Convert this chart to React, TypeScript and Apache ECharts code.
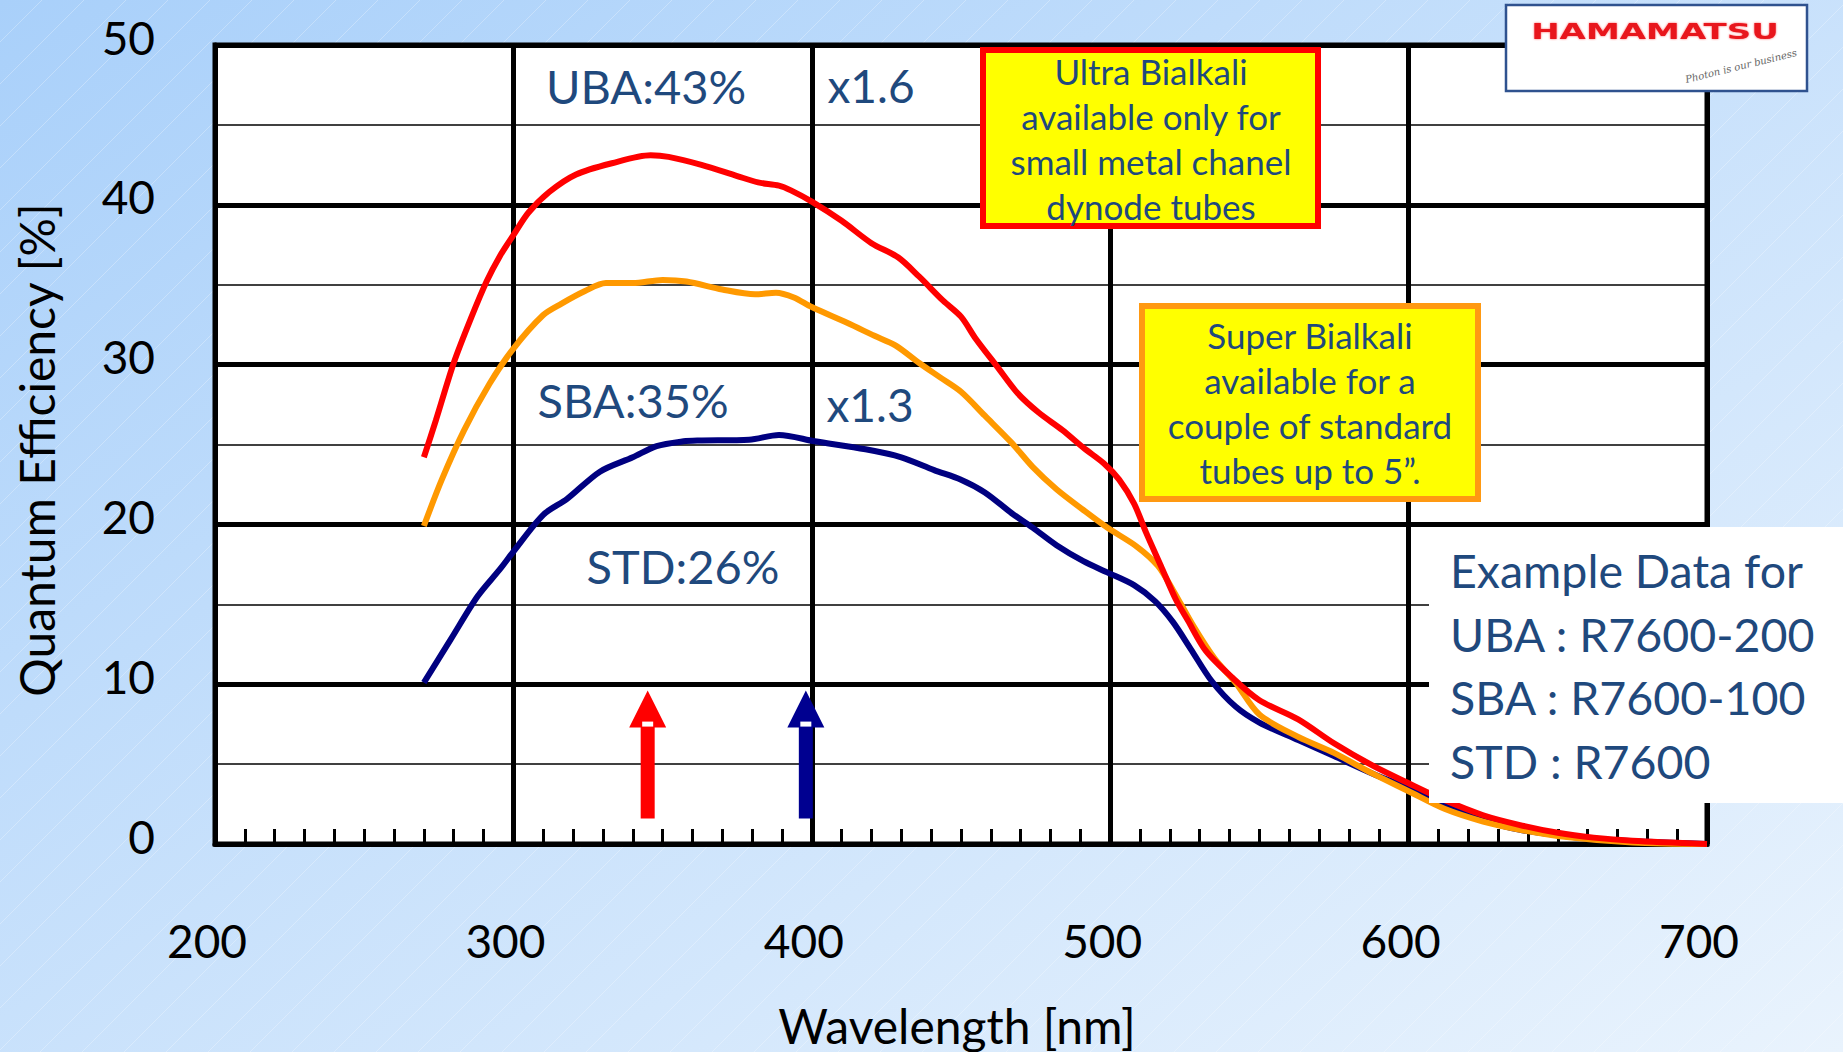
import React, { useEffect, useRef } from "react";
import * as echarts from "echarts";

const W = 1843;
const H = 1052;
const FONT = "Lato";
const NAVY = "#1F497D";

// Quantum efficiency curves [wavelength nm, QE %]
const stdCurve: [number, number][] = [
  [270, 10.1], [279, 12.8], [288, 15.5], [295.5, 17.2], [300, 18.3], [310, 20.6], [318, 21.6],
  [329, 23.3], [340, 24.2], [348, 24.9], [357, 25.2], [362, 25.25], [379, 25.3], [389, 25.6],
  [401, 25.2], [418, 24.7], [430, 24.2], [441, 23.4], [450, 22.8], [458, 22.0], [467, 20.7],
  [474, 19.8], [482, 18.7], [491, 17.7], [499, 17.0], [508, 16.2], [515, 15.2], [521, 13.9],
  [527, 12.2], [534, 10.2], [542, 8.6], [550, 7.6], [563, 6.5], [575, 5.5], [588, 4.4],
  [600, 3.5], [612, 2.4], [625, 1.5], [637, 0.9], [650, 0.55], [662, 0.3], [700, 0],
];
const sbaCurve: [number, number][] = [
  [270, 19.9], [276, 22.8], [283.5, 25.9], [292, 28.8], [300, 31.0], [310, 33.1], [316, 33.8],
  [324, 34.6], [331, 35.1], [340, 35.1], [350, 35.3], [358, 35.2], [370, 34.7], [381, 34.4],
  [388, 34.5], [394, 34.2], [400, 33.6], [412, 32.6], [421, 31.8], [428, 31.2], [436, 30.1],
  [443, 29.2], [450, 28.3], [458, 26.8], [467, 25.1], [474, 23.6], [482, 22.2], [491, 20.9],
  [499, 19.8], [509, 18.6], [516, 17.4], [521, 15.9], [528, 13.6], [535, 11.6], [542, 10.1],
  [550, 8.1], [563, 6.7], [575, 5.7], [588, 4.4], [600, 3.3], [612, 2.2], [625, 1.4],
  [637, 0.9], [650, 0.5], [675, 0.1], [700, 0],
];
const ubaCurve: [number, number][] = [
  [270, 24.2], [274, 26.5], [280, 30.1], [286, 33.0], [291, 35.2], [295.5, 36.8], [300, 38.1],
  [305, 39.5], [312, 40.8], [321, 41.9], [333, 42.6], [346, 43.1], [352, 43.0], [363, 42.5],
  [375, 41.8], [382, 41.4], [389, 41.2], [393, 40.9], [400, 40.2], [410, 39.0], [420, 37.6],
  [429, 36.7], [436, 35.5], [444, 34.0], [450, 33.0], [455, 31.6], [462, 29.9], [469, 28.2],
  [476, 27.0], [484, 25.9], [491, 24.8], [498, 23.8], [503, 22.8], [508, 21.3], [512, 19.5],
  [517, 17.4], [522, 15.3], [526, 14.0], [532, 12.1], [541, 10.4], [550, 9.0], [563, 7.8],
  [575, 6.3], [588, 4.9], [600, 3.8], [612, 2.75], [625, 1.8], [637, 1.2], [650, 0.7],
  [662, 0.4], [675, 0.2], [700, 0],
];

const seriesNames = ["STD", "SBA", "UBA"];
const seriesColors = ["#000080", "#FF9900", "#FF0000"];

const arrowWavelengths = [345, 398];
const arrowColors = ["#FF0000", "#000090"];
const arrowTop = 9.6;
const arrowBottom = 1.6;

const peakLabels = ["UBA:43%", "SBA:35%", "STD:26%"];
const gainLabels = ["x1.6", "x1.3"];
const ubaNote = ["Ultra Bialkali", "available only for", "small metal chanel", "dynode tubes"];
const sbaNote = ["Super Bialkali", "available for a", "couple of standard", "tubes up to 5\u201D."];
const exampleLines = ["Example Data for", "UBA : R7600-200", "SBA : R7600-100", "STD : R7600"];

const xTitle = "Wavelength [nm]";
const yTitle = "Quantum Efficiency [%]";

export default function App() {
  const ref = useRef<HTMLDivElement>(null);

  useEffect(() => {
    if (!ref.current) return;
    const chart = echarts.init(ref.current, null, { renderer: "svg" });

    const txt = (text: string, x: number, y: number, size: number, extra: any = {}, rotation = 0) => ({
      type: "text",
      x,
      y,
      rotation,
      z: 100,
      style: {
        text,
        fill: NAVY,
        fontSize: size,
        fontFamily: FONT,
        align: "center",
        verticalAlign: "middle",
        ...extra,
      },
    });

    const stripes: any[] = [];
    for (let k = -H; k < W; k += 42) {
      stripes.push({
        type: "line",
        z: -10,
        shape: { x1: k, y1: H, x2: k + H, y2: 0 },
        style: { stroke: "rgba(255,255,255,0.28)", lineWidth: 1 },
        silent: true,
      });
    }

    const graphics: any[] = [
      ...stripes,
      // axis titles
      txt(yTitle, 36, 450, 48, { fill: "#000" }, Math.PI / 2),
      txt(xTitle, 957, 1025, 48, { fill: "#000" }),
      // peak labels
      txt(peakLabels[0], 646, 86, 47),
      txt(gainLabels[0], 871, 85, 46),
      txt(peakLabels[1], 633, 400, 47),
      txt(gainLabels[1], 870, 404, 46),
      txt(peakLabels[2], 683, 566, 47),
      // UBA note box
      {
        type: "rect",
        z: 100,
        shape: { x: 983, y: 50, width: 335, height: 176 },
        style: { fill: "#FFFF00", stroke: "#FF0000", lineWidth: 6 },
      },
      ...ubaNote.map((l, i) => txt(l, 1151, 71 + i * 45, 35)),
      // SBA note box
      {
        type: "rect",
        z: 100,
        shape: { x: 1142, y: 306, width: 336, height: 193 },
        style: { fill: "#FFFF00", stroke: "#FF9912", lineWidth: 6 },
      },
      ...sbaNote.map((l, i) => txt(l, 1310, 335 + i * 45, 35)),
      // Example data box
      {
        type: "rect",
        z: 100,
        shape: { x: 1429, y: 527, width: 414, height: 276 },
        style: { fill: "#FFFFFF" },
      },
      ...exampleLines.map((l, i) => txt(l, 1450, 570 + i * 63.7, 46.5, { align: "left" })),
      // logo
      {
        type: "rect",
        z: 100,
        shape: { x: 1506, y: 5, width: 301, height: 86 },
        style: { fill: "#FFFFFF", stroke: "#2F528F", lineWidth: 2.5 },
      },
      {
        type: "text",
        z: 101,
        x: 1655,
        y: 32,
        scaleX: 1.62,
        style: {
          text: "HAMAMATSU",
          fill: "#E8141B",
          fontSize: 21,
          fontWeight: "bold",
          fontFamily: "DejaVu Sans",
          align: "center",
          verticalAlign: "middle",
          textShadowColor: "rgba(255,0,0,0.6)",
          textShadowBlur: 2,
        },
      },
      {
        type: "text",
        z: 101,
        x: 1741,
        y: 66,
        rotation: 0.24,
        style: {
          text: "Photon is our business",
          fill: "#666",
          fontSize: 10,
          fontStyle: "italic",
          fontFamily: "DejaVu Serif",
          align: "center",
          verticalAlign: "middle",
        },
      },
    ];

    const curves = [stdCurve, sbaCurve, ubaCurve];

    const option: any = {
      animation: false,
      backgroundColor: new echarts.graphic.LinearGradient(0, 0, 1, 1, [
        { offset: 0, color: "#A9D0FA" },
        { offset: 1, color: "#E9F3FD" },
      ]),
      textStyle: { fontFamily: FONT },
      grid: {
        left: 215,
        right: 136,
        top: 45,
        bottom: 208,
        show: true,
        backgroundColor: "#FFFFFF",
        borderColor: "#000",
        borderWidth: 5,
        outerBoundsMode: "none",
        containLabel: false,
      },
      xAxis: {
        type: "value",
        min: 200,
        max: 700,
        interval: 100,
        axisLine: { show: true, onZero: false, lineStyle: { color: "#000", width: 5 } },
        axisTick: { show: true, inside: true, length: 15, lineStyle: { color: "#000", width: 3 } },
        minorTick: { show: true, splitNumber: 10, length: 15, lineStyle: { color: "#000", width: 3 } },
        splitLine: { show: true, lineStyle: { color: "#000", width: 5 } },
        axisLabel: {
          fontSize: 46,
          color: "#000",
          fontFamily: FONT,
          margin: 73,
          lineHeight: 46,
          padding: [0, 16, 0, 0],
          showMinLabel: true,
          showMaxLabel: true,
        },
      },
      yAxis: {
        type: "value",
        min: 0,
        max: 50,
        interval: 10,
        axisLine: { show: true, lineStyle: { color: "#000", width: 5 } },
        axisTick: { show: false },
        minorTick: { show: false, splitNumber: 2 },
        splitLine: { show: true, lineStyle: { color: "#000", width: 5 } },
        minorSplitLine: { show: true, lineStyle: { color: "#000", width: 1.5 } },
        axisLabel: {
          fontSize: 46,
          color: "#000",
          fontFamily: FONT,
          margin: 60,
          lineHeight: 16,
          verticalAlign: "bottom",
          showMinLabel: true,
          showMaxLabel: true,
        },
      },
      series: [
        ...curves.map((c, i) => ({
          type: "line",
          name: seriesNames[i],
          data: c,
          smooth: 0.3,
          showSymbol: false,
          symbol: "none",
          lineStyle: { color: seriesColors[i], width: 6 },
          itemStyle: { color: seriesColors[i] },
          z: 3 + i,
        })),
        {
          type: "custom",
          name: "arrows",
          clip: false,
          z: 10,
          encode: { x: 0, y: [1, 2] },
          data: arrowWavelengths.map((w, i) => ({
            value: [w, arrowTop, arrowBottom],
            itemStyle: { color: arrowColors[i] },
          })),
          renderItem: (params: any, api: any) => {
            const x = api.value(0);
            const t = api.coord([x, api.value(1)]);
            const b = api.coord([x, api.value(2)]);
            const color = api.visual("color");
            const hw = 18.5;
            const hl = 37;
            const sw = 7;
            return {
              type: "group",
              children: [
                {
                  type: "polygon",
                  shape: {
                    points: [
                      [t[0], t[1]],
                      [t[0] + hw, t[1] + hl],
                      [t[0] + sw, t[1] + hl],
                      [t[0] + sw, b[1]],
                      [t[0] - sw, b[1]],
                      [t[0] - sw, t[1] + hl],
                      [t[0] - hw, t[1] + hl],
                    ],
                  },
                  style: { fill: color },
                },
                {
                  type: "rect",
                  shape: { x: t[0] - 5.5, y: t[1] + hl - 6, width: 11, height: 5 },
                  style: { fill: "#FFFFFF" },
                },
              ],
            };
          },
        },
      ],
      graphic: graphics,
    };

    chart.setOption(option);
    return () => chart.dispose();
  }, []);

  return <div ref={ref} style={{ position: "absolute", left: 0, top: 0, width: W, height: H }} />;
}
